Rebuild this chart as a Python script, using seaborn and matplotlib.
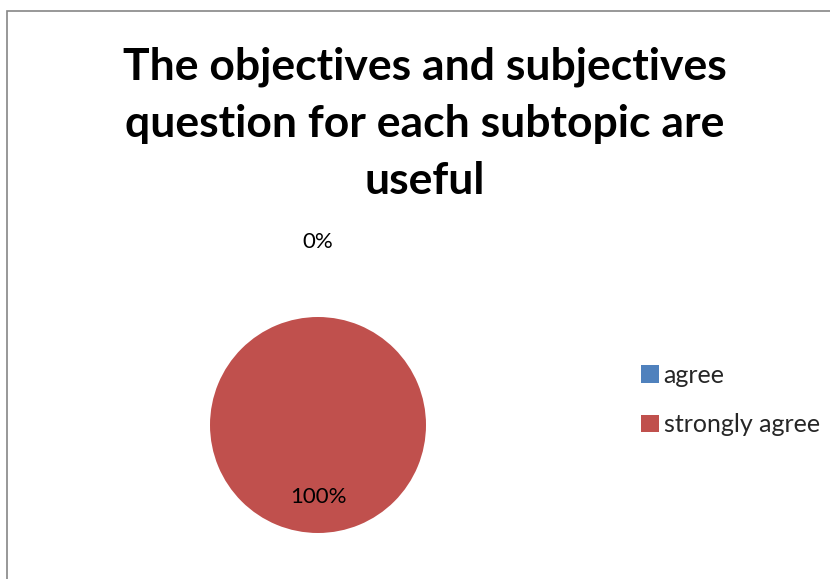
import numpy as np
import matplotlib
matplotlib.use("Agg")
import matplotlib.pyplot as plt
from matplotlib.patches import Rectangle
import seaborn as sns

# data
categories = ["agree", "strongly agree"]
percentages = [0, 100]
colors = ["#4F81BD", "#C0504D"]
title = "The objectives and subjectives\nquestion for each subtopic are\nuseful"

sns.set_theme(style="white")
plt.rcParams["font.family"] = ["Lato", "DejaVu Sans"]

fig = plt.figure(figsize=(8.3, 5.79), dpi=100)

# chart frame (only top and left edges are visible in the crop)
fig.add_artist(Rectangle((7 / 830, -0.2), 1.2, 0.2 + 1 - 11 / 579,
                         transform=fig.transFigure, fill=False,
                         edgecolor="#868686", linewidth=1.2))

fig.text(425 / 830, 1 - 124 / 579, title, ha="center", va="center",
         fontsize=32, fontweight="bold", linespacing=1.52, color="black")

ax = fig.add_axes([210 / 830, 46 / 579, 216 / 830, 216 / 579])
wedges, _ = ax.pie(percentages, colors=colors, startangle=90, counterclock=False,
                   wedgeprops=dict(linewidth=0), radius=1)
ax.set_xlim(-1, 1)
ax.set_ylim(-1, 1)
ax.set_aspect("equal")

# percentage labels: the 0% slice label sits outside, the 100% one inside
label_dist = [1.69, 0.67]
for w, pct, d in zip(wedges, percentages, label_dist):
    ang = np.deg2rad((w.theta1 + w.theta2) / 2)
    ax.text(d * np.cos(ang), d * np.sin(ang), f"{pct}%", ha="center",
            va="center", fontsize=16, color="black", clip_on=False)

handles = [Rectangle((0, 0), 1, 1, facecolor=c, edgecolor="none") for c in colors]
fig.legend(handles, categories, loc="center left",
           bbox_to_anchor=(641 / 830, 1 - 400 / 579), frameon=False,
           fontsize=18, handlelength=0.7, handleheight=0.7, handletextpad=0.2,
           labelspacing=1.05, borderaxespad=0, borderpad=0)

fig.savefig("out.png", dpi=100)
